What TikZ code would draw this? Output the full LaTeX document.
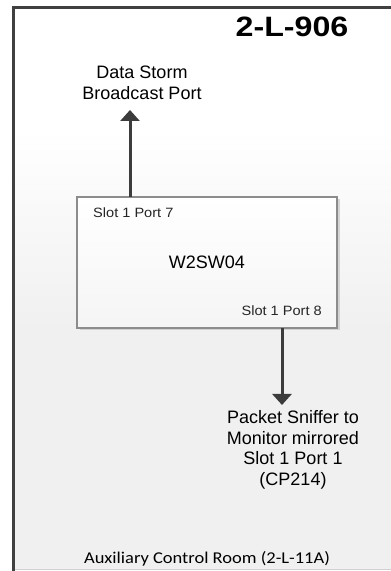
\documentclass[tikz,border=0pt]{standalone}
\usepackage{fontspec}
\setmainfont{Liberation Sans}
\newfontfamily\labelfont{Carlito}
\usetikzlibrary{arrows.meta,shadows}
\definecolor{framegray}{HTML}{404040}
\definecolor{linkgray}{HTML}{3C3C3C}
\definecolor{roomgray}{HTML}{F0F0F0}
\definecolor{boxedge}{HTML}{8C8C8C}
\tikzset{
  plain/.style={inner sep=0pt, align=center, text=black},
  bodytext/.style={plain, font=\fontsize{18}{20.5}\selectfont},
  porttext/.style={plain, font=\fontsize{13.5}{15}\selectfont, text=black!85},
  link/.style={draw=linkgray, line width=3pt,
    -{Triangle[width=19pt,length=11pt]}},
  switchbox/.style={draw=boxedge, line width=1.2pt, top color=white,
    bottom color=black!4, minimum width=260pt, minimum height=131pt,
    drop shadow={shadow xshift=2.5pt, shadow yshift=-2.5pt,
      fill=black!25, opacity=0.6}},
}
\begin{document}
\begin{tikzpicture}[x=1pt,y=1pt]
  \useasboundingbox (0,0) rectangle (391,571);
  % room background: white at the top, fading to light gray
  \fill[white] (13.5,2) rectangle (391,563.5);
  \shade[top color=white, bottom color=roomgray] (13.5,241) rectangle (391,441);
  \fill[roomgray] (13.5,2) rectangle (391,241.5);
  % room walls
  \draw[black!18, line width=0.8pt] (13.5,2) -- (391,2);
  \draw[framegray, line width=3.5pt, line cap=rect] (13.5,2) -- (13.5,563.5) -- (392,563.5);

  % room name
  \node[plain, font=\bfseries\fontsize{28}{30}\selectfont] (room) at (292,544)
    {\scalebox{1.15}[1]{2-L-906}};

  % the switch
  \node[switchbox] (sw04) at (207,308.5) {};
  \node[bodytext] (swname) at (207,309) {W2SW04};
  \node[porttext, anchor=west] (p7) at (93,358) {\scalebox{1.08}[1]{Slot 1 Port 7}};
  \node[porttext, anchor=east] (p8) at (322,260) {\scalebox{1.08}[1]{Slot 1 Port 8}};

  % endpoints
  \node[bodytext] (storm) at (142,488) {Data Storm\\Broadcast Port};
  \node[bodytext] (sniffer) at (293,121)
    {Packet Sniffer to\\Monitor mirrored\\Slot 1 Port 1\\(CP214)};

  % links
  \coordinate (p7up) at (130,374);
  \coordinate (stormtip) at (130,461);
  \coordinate (p8down) at (282,243);
  \coordinate (sniffertip) at (282,166);
  \draw[link] (p7up) -- (stormtip);
  \draw[link] (p8down) -- (sniffertip);

  % room label
  \node[plain, font=\labelfont\fontsize{16.5}{18}\selectfont] (roomlabel) at (207,12)
    {\scalebox{1.12}[1]{Auxiliary Control Room (2-L-11A)}};
\end{tikzpicture}
\end{document}
